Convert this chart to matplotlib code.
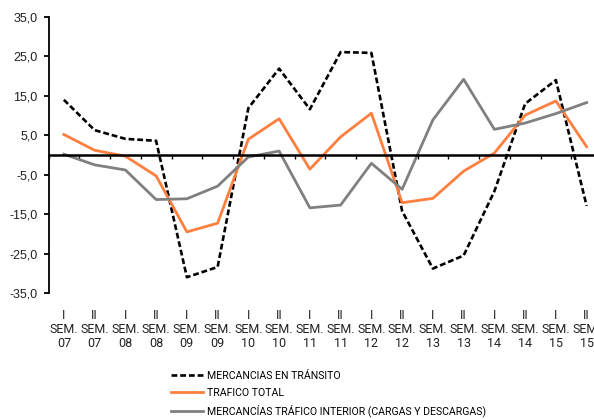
import matplotlib
matplotlib.use("Agg")
import matplotlib.pyplot as plt
from matplotlib.ticker import FixedLocator, FuncFormatter
import numpy as np

periods = ["I", "II"] * 9
years = ["07", "07", "08", "08", "09", "09", "10", "10", "11", "11",
         "12", "12", "13", "13", "14", "14", "15", "15"]

transito = [14.0, 6.3, 4.1, 3.6, -31.0, -28.4, 11.9, 21.9, 11.6, 26.1,
            25.9, -14.2, -28.8, -25.5, -9.2, 13.0, 19.0, -12.9]
total = [5.2, 1.2, -0.3, -5.3, -19.5, -17.3, 4.0, 9.2, -3.6, 4.6,
         10.6, -12.1, -11.0, -4.1, 0.5, 10.1, 13.7, 2.1]
interior = [0.2, -2.5, -3.8, -11.3, -11.1, -7.9, -0.5, 1.0, -13.4, -12.7,
            -2.1, -8.7, 8.9, 19.2, 6.5, 8.1, 10.5, 13.3]

labels = ["MERCANCIAS EN TRÁNSITO", "TRAFICO TOTAL",
          "MERCANCÍAS TRÁFICO INTERIOR (CARGAS Y DESCARGAS)"]
yticks = [35, 25, 15, 5, -5, -15, -25, -35]

plt.rcParams['font.family'] = ['Roboto', 'DejaVu Sans']

W, H = 594, 419
fig = plt.figure(figsize=(W / 100, H / 100), dpi=100)
left, right = 48.5, 48.5 + 18 * 30.75
top, bottom = 17, 293
ax = fig.add_axes([left / W, 1 - bottom / H, (right - left) / W, (bottom - top) / H])

x = np.arange(len(years))
ax.plot(x, transito, color="black", lw=1.9, linestyle=(0, (2.2, 1.1)), label=labels[0])
ax.plot(x, total, color="#FF7F3F", lw=2.0, label=labels[1])
ax.plot(x, interior, color="#808080", lw=2.0, label=labels[2])

ax.set_xlim(-0.5, 17.5)
ax.set_ylim(-35, 35)

for s in ["top", "right"]:
    ax.spines[s].set_visible(False)
ax.spines["left"].set_linewidth(1.3)
ax.spines["bottom"].set_position(("data", 0))
ax.spines["bottom"].set_linewidth(1.8)
ax.spines["bottom"].set_zorder(5)

ax.yaxis.set_major_locator(FixedLocator(yticks))
ax.yaxis.set_major_formatter(FuncFormatter(lambda v, p: f"{v:.1f}".replace(".", ",")))
ax.tick_params(axis="y", direction="out", length=3.5, width=1.3, pad=4.5,
               labelsize=9, labelcolor="#222222")
for t in ax.get_yticklabels():
    t.set_fontfamily(["Liberation Sans", "DejaVu Sans"])

ax.set_xticks([])
ax.xaxis.set_minor_locator(FixedLocator(np.arange(-0.5, 18, 1.0)))
ax.tick_params(axis="x", which="minor", direction="out", length=3, width=1.0,
               labelbottom=False)

for i in range(len(years)):
    ax.text(i, -0.058, f"{periods[i]}\nSEM.\n{years[i]}", transform=ax.get_xaxis_transform(),
            ha="center", va="top", fontsize=9.0, linespacing=1.08, color="#222222")

fig.legend(loc="upper left", bbox_to_anchor=(171 / W, 1 - 371 / H), frameon=False,
           fontsize=7.6, handlelength=3.0, handletextpad=0.38, labelspacing=0.64,
           borderaxespad=0, borderpad=0)

fig.savefig("out.png", dpi=100)
